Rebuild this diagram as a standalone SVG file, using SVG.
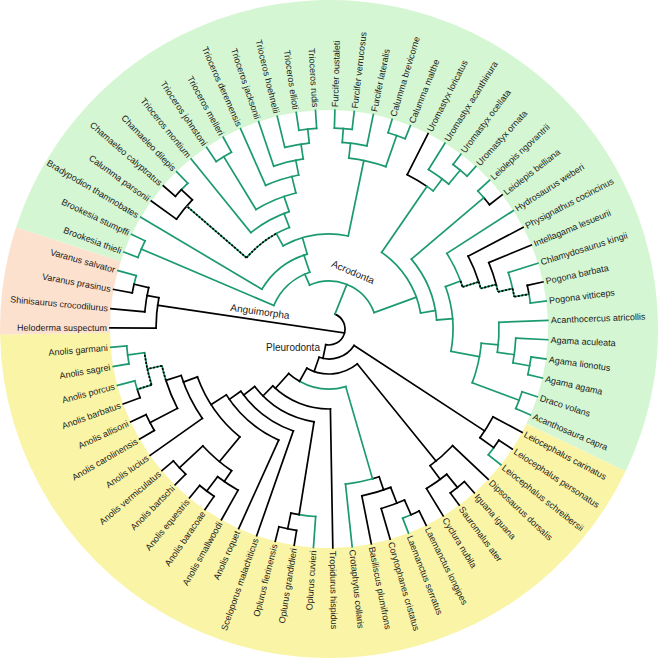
<svg xmlns="http://www.w3.org/2000/svg" width="658" height="658" viewBox="0 0 658 658">
<style>
.g{stroke:#1b9a71;fill:none;stroke-width:1.7;stroke-linecap:square}
.k{stroke:#000;fill:none;stroke-width:1.7;stroke-linecap:square}
.dg{stroke:#1b9a71;fill:none;stroke-width:1.7}
.dk{stroke:#000;fill:none;stroke-width:1.7;stroke-dasharray:2 1.6}
.bg{fill:none;stroke-width:110}
text{font-family:"Liberation Sans",Arial,sans-serif;font-size:9px;fill:#1a1a1a}
.l{text-anchor:end}
.cl{font-size:10px;text-anchor:middle}
</style>
<rect width="658" height="658" fill="#fff"/>
<g transform="translate(329,329)">
<g id="background">
<circle class="bg" r="274" stroke="#fde1cf" pathLength="360" stroke-dasharray="19.01 400" transform="rotate(179)"/>
<circle class="bg" r="274" stroke="#d5f6d3" pathLength="360" stroke-dasharray="187.61 400" transform="rotate(198.01)"/>
<circle class="bg" r="274" stroke="#faf4a7" pathLength="360" stroke-dasharray="153.38 400" transform="rotate(25.62)"/>
</g>
<g id="connectors">
<!-- black arcs -->
<circle class="k" r="16" pathLength="360" stroke-dasharray="169.86 400" transform="rotate(291.82)"/>
<circle class="k" r="173" pathLength="360" stroke-dasharray="10.14 400" transform="rotate(180.27)"/>
<circle class="k" r="185" pathLength="360" stroke-dasharray="7.60 400" transform="rotate(185.34)"/>
<circle class="k" r="200" pathLength="360" stroke-dasharray="2.53 400" transform="rotate(190.41)"/>
<circle class="k" r="188" pathLength="360" stroke-dasharray="7.61 400" transform="rotate(215.76)"/>
<circle class="k" r="203" pathLength="360" stroke-dasharray="2.54 400" transform="rotate(220.83)"/>
<circle class="k" r="173" pathLength="360" stroke-dasharray="7.60 400" transform="rotate(296.89)"/>
<circle class="k" r="203" pathLength="360" stroke-dasharray="2.54 400" transform="rotate(319.70)"/>
<circle class="k" r="157" pathLength="360" stroke-dasharray="10.14 400" transform="rotate(332.38)"/>
<circle class="k" r="173" pathLength="360" stroke-dasharray="7.61 400" transform="rotate(337.45)"/>
<circle class="k" r="203" pathLength="360" stroke-dasharray="2.54 400" transform="rotate(347.59)"/>
<circle class="k" r="30" pathLength="360" stroke-dasharray="76.05 400" transform="rotate(33.23)"/>
<circle class="k" r="186" pathLength="360" stroke-dasharray="7.60 400" transform="rotate(28.16)"/>
<circle class="k" r="203" pathLength="360" stroke-dasharray="2.53 400" transform="rotate(33.23)"/>
<circle class="k" r="45" pathLength="360" stroke-dasharray="68.45 400" transform="rotate(50.97)"/>
<circle class="k" r="170" pathLength="360" stroke-dasharray="10.14 400" transform="rotate(43.37)"/>
<circle class="k" r="187" pathLength="360" stroke-dasharray="7.61 400" transform="rotate(50.97)"/>
<circle class="k" r="204" pathLength="360" stroke-dasharray="5.07 400" transform="rotate(48.44)"/>
<circle class="k" r="60" pathLength="360" stroke-dasharray="12.68 400" transform="rotate(119.42)"/>
<circle class="k" r="156" pathLength="360" stroke-dasharray="2.54 400" transform="rotate(71.25)"/>
<circle class="k" r="170" pathLength="360" stroke-dasharray="10.14 400" transform="rotate(68.72)"/>
<circle class="k" r="187" pathLength="360" stroke-dasharray="7.61 400" transform="rotate(66.18)"/>
<circle class="k" r="203" pathLength="360" stroke-dasharray="2.53 400" transform="rotate(63.65)"/>
<circle class="k" r="80" pathLength="360" stroke-dasharray="45.63 400" transform="rotate(89)"/>
<circle class="k" r="94" pathLength="360" stroke-dasharray="43.10 400" transform="rotate(99.14)"/>
<circle class="k" r="188" pathLength="360" stroke-dasharray="2.54 400" transform="rotate(99.14)"/>
<circle class="k" r="204" pathLength="360" stroke-dasharray="5.07 400" transform="rotate(99.14)"/>
<circle class="k" r="108" pathLength="360" stroke-dasharray="35.49 400" transform="rotate(109.28)"/>
<circle class="k" r="122" pathLength="360" stroke-dasharray="32.96 400" transform="rotate(114.35)"/>
<circle class="k" r="140" pathLength="360" stroke-dasharray="30.43 400" transform="rotate(129.56)"/>
<circle class="k" r="172" pathLength="360" stroke-dasharray="12.68 400" transform="rotate(124.49)"/>
<circle class="k" r="185" pathLength="360" stroke-dasharray="7.61 400" transform="rotate(119.42)"/>
<circle class="k" r="203" pathLength="360" stroke-dasharray="5.07 400" transform="rotate(124.49)"/>
<circle class="k" r="204" pathLength="360" stroke-dasharray="5.07 400" transform="rotate(134.63)"/>
<circle class="k" r="155" pathLength="360" stroke-dasharray="17.75 400" transform="rotate(144.77)"/>
<circle class="k" r="171" pathLength="360" stroke-dasharray="10.14 400" transform="rotate(152.38)"/>
<circle class="k" r="202" pathLength="360" stroke-dasharray="5.07 400" transform="rotate(149.85)"/>
<circle class="k" r="201" pathLength="360" stroke-dasharray="2.53 400" transform="rotate(159.99)"/>
<!-- green arcs -->
<circle class="g" r="200" pathLength="360" stroke-dasharray="2.54 400" transform="rotate(192.94)"/>
<circle class="g" r="48" pathLength="360" stroke-dasharray="93.80 400" transform="rotate(246.18)"/>
<circle class="g" r="60" pathLength="360" stroke-dasharray="48.17 400" transform="rotate(203.08)"/>
<circle class="g" r="204" pathLength="360" stroke-dasharray="5.07 400" transform="rotate(200.55)"/>
<circle class="g" r="78" pathLength="360" stroke-dasharray="43.10 400" transform="rotate(210.69)"/>
<circle class="g" r="95" pathLength="360" stroke-dasharray="40.57 400" transform="rotate(241.11)"/>
<circle class="g" r="109" pathLength="360" stroke-dasharray="7.61 400" transform="rotate(241.11)"/>
<circle class="g" r="203" pathLength="360" stroke-dasharray="2.53 400" transform="rotate(223.37)"/>
<circle class="g" r="124" pathLength="360" stroke-dasharray="20.28 400" transform="rotate(230.97)"/>
<circle class="g" r="140" pathLength="360" stroke-dasharray="17.74 400" transform="rotate(238.58)"/>
<circle class="g" r="202" pathLength="360" stroke-dasharray="5.07 400" transform="rotate(236.04)"/>
<circle class="g" r="157" pathLength="360" stroke-dasharray="12.68 400" transform="rotate(246.18)"/>
<circle class="g" r="172" pathLength="360" stroke-dasharray="10.14 400" transform="rotate(251.25)"/>
<circle class="g" r="187" pathLength="360" stroke-dasharray="7.61 400" transform="rotate(256.32)"/>
<circle class="g" r="201" pathLength="360" stroke-dasharray="5.08 400" transform="rotate(261.39)"/>
<circle class="g" r="172" pathLength="360" stroke-dasharray="12.67 400" transform="rotate(276.61)"/>
<circle class="g" r="187" pathLength="360" stroke-dasharray="7.61 400" transform="rotate(274.07)"/>
<circle class="g" r="201" pathLength="360" stroke-dasharray="5.07 400" transform="rotate(271.54)"/>
<circle class="g" r="205" pathLength="360" stroke-dasharray="5.07 400" transform="rotate(286.75)"/>
<circle class="g" r="93" pathLength="360" stroke-dasharray="45.64 400" transform="rotate(304.49)"/>
<circle class="g" r="173" pathLength="360" stroke-dasharray="2.54 400" transform="rotate(304.49)"/>
<circle class="g" r="188" pathLength="360" stroke-dasharray="7.60 400" transform="rotate(301.96)"/>
<circle class="g" r="206" pathLength="360" stroke-dasharray="5.07 400" transform="rotate(307.03)"/>
<circle class="g" r="108" pathLength="360" stroke-dasharray="35.50 400" transform="rotate(319.70)"/>
<circle class="g" r="203" pathLength="360" stroke-dasharray="2.53 400" transform="rotate(317.17)"/>
<circle class="g" r="124" pathLength="360" stroke-dasharray="30.43 400" transform="rotate(339.98)"/>
<circle class="g" r="140" pathLength="360" stroke-dasharray="12.67 400" transform="rotate(327.31)"/>
<circle class="g" r="188" pathLength="360" stroke-dasharray="5.07 400" transform="rotate(342.52)"/>
<circle class="g" r="203" pathLength="360" stroke-dasharray="2.53 400" transform="rotate(350.13)"/>
<circle class="g" r="153" pathLength="360" stroke-dasharray="15.21 400" transform="rotate(5.34)"/>
<circle class="g" r="170" pathLength="360" stroke-dasharray="10.14 400" transform="rotate(357.73)"/>
<circle class="g" r="187" pathLength="360" stroke-dasharray="7.61 400" transform="rotate(2.80)"/>
<circle class="g" r="204" pathLength="360" stroke-dasharray="5.07 400" transform="rotate(7.87)"/>
<circle class="g" r="203" pathLength="360" stroke-dasharray="5.08 400" transform="rotate(18.01)"/>
<circle class="g" r="203" pathLength="360" stroke-dasharray="2.54 400" transform="rotate(35.76)"/>
<circle class="g" r="60" pathLength="360" stroke-dasharray="45.63 400" transform="rotate(73.79)"/>
<circle class="g" r="156" pathLength="360" stroke-dasharray="10.14 400" transform="rotate(73.79)"/>
<circle class="g" r="203" pathLength="360" stroke-dasharray="2.54 400" transform="rotate(66.18)"/>
<circle class="g" r="188" pathLength="360" stroke-dasharray="5.07 400" transform="rotate(94.07)"/>
<circle class="g" r="201" pathLength="360" stroke-dasharray="2.54 400" transform="rotate(162.52)"/>
<circle class="g" r="203" pathLength="360" stroke-dasharray="5.07 400" transform="rotate(170.13)"/>
<!-- black radials -->
<line class="k" x1="15.52" y1="3.87" x2="-171.37" y2="-23.69"/>
<line class="k" x1="173" x2="219" transform="rotate(180.27)"/>
<line class="k" x1="173" x2="185" transform="rotate(190.41)"/>
<line class="k" x1="185" x2="219" transform="rotate(185.34)"/>
<line class="k" x1="185" x2="200" transform="rotate(192.94)"/>
<line class="k" x1="200" x2="219" transform="rotate(190.41)"/>
<line class="k" x1="188" x2="219" transform="rotate(215.76)"/>
<line class="k" x1="188" x2="203" transform="rotate(223.37)"/>
<line class="k" x1="203" x2="219" transform="rotate(220.83)"/>
<line class="k" x1="173" x2="219" transform="rotate(296.89)"/>
<line class="k" x1="203" x2="219" transform="rotate(322.24)"/>
<line class="k" x1="157" x2="219" transform="rotate(332.38)"/>
<line class="k" x1="173" x2="219" transform="rotate(337.45)"/>
<line class="k" x1="203" x2="219" transform="rotate(347.59)"/>
<line class="k" x1="16" x2="30" transform="rotate(101.68)"/>
<line class="k" x1="30" x2="186" transform="rotate(33.23)"/>
<line class="k" x1="186" x2="219" transform="rotate(28.16)"/>
<line class="k" x1="186" x2="203" transform="rotate(35.76)"/>
<line class="k" x1="203" x2="219" transform="rotate(33.23)"/>
<line class="k" x1="30" x2="45" transform="rotate(109.28)"/>
<line class="k" x1="45" x2="170" transform="rotate(50.97)"/>
<line class="k" x1="170" x2="219" transform="rotate(43.37)"/>
<line class="k" x1="170" x2="187" transform="rotate(53.51)"/>
<line class="k" x1="187" x2="219" transform="rotate(58.58)"/>
<line class="k" x1="187" x2="204" transform="rotate(50.97)"/>
<line class="k" x1="204" x2="219" transform="rotate(48.44)"/>
<line class="k" x1="204" x2="219" transform="rotate(53.51)"/>
<line class="k" x1="45" x2="60" transform="rotate(119.42)"/>
<line class="k" x1="156" x2="170" transform="rotate(71.25)"/>
<line class="k" x1="170" x2="219" transform="rotate(78.86)"/>
<line class="k" x1="170" x2="187" transform="rotate(68.72)"/>
<line class="k" x1="187" x2="219" transform="rotate(73.79)"/>
<line class="k" x1="187" x2="203" transform="rotate(66.18)"/>
<line class="k" x1="203" x2="219" transform="rotate(63.65)"/>
<line class="k" x1="60" x2="80" transform="rotate(132.10)"/>
<line class="k" x1="80" x2="219" transform="rotate(89)"/>
<line class="k" x1="80" x2="94" transform="rotate(134.63)"/>
<line class="k" x1="94" x2="188" transform="rotate(99.14)"/>
<line class="k" x1="188" x2="204" transform="rotate(101.68)"/>
<line class="k" x1="204" x2="219" transform="rotate(99.14)"/>
<line class="k" x1="204" x2="219" transform="rotate(104.21)"/>
<line class="k" x1="94" x2="108" transform="rotate(142.24)"/>
<line class="k" x1="108" x2="219" transform="rotate(109.28)"/>
<line class="k" x1="108" x2="122" transform="rotate(144.77)"/>
<line class="k" x1="122" x2="219" transform="rotate(114.35)"/>
<line class="k" x1="122" x2="140" transform="rotate(147.31)"/>
<line class="k" x1="140" x2="172" transform="rotate(129.56)"/>
<line class="k" x1="172" x2="185" transform="rotate(124.49)"/>
<line class="k" x1="185" x2="219" transform="rotate(119.42)"/>
<line class="k" x1="185" x2="203" transform="rotate(127.03)"/>
<line class="k" x1="203" x2="219" transform="rotate(124.49)"/>
<line class="k" x1="203" x2="219" transform="rotate(129.56)"/>
<line class="k" x1="172" x2="204" transform="rotate(137.17)"/>
<line class="k" x1="204" x2="219" transform="rotate(134.63)"/>
<line class="k" x1="204" x2="219" transform="rotate(139.70)"/>
<line class="k" x1="140" x2="155" transform="rotate(159.99)"/>
<line class="k" x1="155" x2="219" transform="rotate(144.77)"/>
<line class="k" x1="155" x2="171" transform="rotate(162.52)"/>
<line class="k" x1="171" x2="202" transform="rotate(152.38)"/>
<line class="k" x1="202" x2="219" transform="rotate(149.85)"/>
<line class="k" x1="202" x2="219" transform="rotate(154.92)"/>
<line class="k" x1="201" x2="219" transform="rotate(159.99)"/>
<!-- green radials -->
<line class="g" x1="200" x2="219" transform="rotate(195.48)"/>
<line class="g" x1="16" x2="48" transform="rotate(291.82)"/>
<line class="g" x1="48" x2="60" transform="rotate(246.18)"/>
<line class="g" x1="60" x2="204" transform="rotate(203.08)"/>
<line class="g" x1="204" x2="219" transform="rotate(200.55)"/>
<line class="g" x1="204" x2="219" transform="rotate(205.62)"/>
<line class="g" x1="60" x2="78" transform="rotate(251.25)"/>
<line class="g" x1="78" x2="219" transform="rotate(210.69)"/>
<line class="g" x1="78" x2="95" transform="rotate(253.79)"/>
<line class="g" x1="95" x2="109" transform="rotate(241.11)"/>
<line class="g" x1="203" x2="219" transform="rotate(225.90)"/>
<line class="g" x1="109" x2="124" transform="rotate(248.72)"/>
<line class="g" x1="124" x2="219" transform="rotate(230.97)"/>
<line class="g" x1="124" x2="140" transform="rotate(251.25)"/>
<line class="g" x1="140" x2="202" transform="rotate(238.58)"/>
<line class="g" x1="202" x2="219" transform="rotate(236.04)"/>
<line class="g" x1="202" x2="219" transform="rotate(241.11)"/>
<line class="g" x1="140" x2="157" transform="rotate(256.32)"/>
<line class="g" x1="157" x2="219" transform="rotate(246.18)"/>
<line class="g" x1="157" x2="172" transform="rotate(258.86)"/>
<line class="g" x1="172" x2="219" transform="rotate(251.25)"/>
<line class="g" x1="172" x2="187" transform="rotate(261.39)"/>
<line class="g" x1="187" x2="219" transform="rotate(256.32)"/>
<line class="g" x1="187" x2="201" transform="rotate(263.93)"/>
<line class="g" x1="201" x2="219" transform="rotate(261.39)"/>
<line class="g" x1="201" x2="219" transform="rotate(266.47)"/>
<line class="g" x1="95" x2="172" transform="rotate(281.68)"/>
<line class="g" x1="172" x2="187" transform="rotate(276.61)"/>
<line class="g" x1="187" x2="201" transform="rotate(274.07)"/>
<line class="g" x1="201" x2="219" transform="rotate(271.54)"/>
<line class="g" x1="201" x2="219" transform="rotate(276.61)"/>
<line class="g" x1="187" x2="219" transform="rotate(281.68)"/>
<line class="g" x1="172" x2="205" transform="rotate(289.28)"/>
<line class="g" x1="205" x2="219" transform="rotate(286.75)"/>
<line class="g" x1="205" x2="219" transform="rotate(291.82)"/>
<line class="g" x1="48" x2="93" transform="rotate(339.98)"/>
<line class="g" x1="93" x2="173" transform="rotate(304.49)"/>
<line class="g" x1="173" x2="188" transform="rotate(307.03)"/>
<line class="g" x1="188" x2="219" transform="rotate(301.96)"/>
<line class="g" x1="188" x2="206" transform="rotate(309.56)"/>
<line class="g" x1="206" x2="219" transform="rotate(307.03)"/>
<line class="g" x1="206" x2="219" transform="rotate(312.10)"/>
<line class="g" x1="93" x2="108" transform="rotate(350.13)"/>
<line class="g" x1="108" x2="203" transform="rotate(319.70)"/>
<line class="g" x1="203" x2="219" transform="rotate(317.17)"/>
<line class="g" x1="108" x2="124" transform="rotate(355.20)"/>
<line class="g" x1="124" x2="140" transform="rotate(339.98)"/>
<line class="g" x1="140" x2="219" transform="rotate(327.31)"/>
<line class="g" x1="188" x2="219" transform="rotate(342.52)"/>
<line class="g" x1="203" x2="219" transform="rotate(352.66)"/>
<line class="g" x1="124" x2="153" transform="rotate(10.41)"/>
<line class="g" x1="153" x2="170" transform="rotate(5.34)"/>
<line class="g" x1="170" x2="219" transform="rotate(357.73)"/>
<line class="g" x1="170" x2="187" transform="rotate(7.87)"/>
<line class="g" x1="187" x2="219" transform="rotate(2.80)"/>
<line class="g" x1="187" x2="204" transform="rotate(10.41)"/>
<line class="g" x1="204" x2="219" transform="rotate(7.87)"/>
<line class="g" x1="204" x2="219" transform="rotate(12.94)"/>
<line class="g" x1="153" x2="203" transform="rotate(20.55)"/>
<line class="g" x1="203" x2="219" transform="rotate(18.01)"/>
<line class="g" x1="203" x2="219" transform="rotate(23.09)"/>
<line class="g" x1="203" x2="219" transform="rotate(38.30)"/>
<line class="g" x1="60" x2="156" transform="rotate(73.79)"/>
<line class="g" x1="156" x2="219" transform="rotate(83.93)"/>
<line class="g" x1="203" x2="219" transform="rotate(68.72)"/>
<line class="g" x1="188" x2="219" transform="rotate(94.07)"/>
<line class="g" x1="201" x2="219" transform="rotate(165.06)"/>
<line class="g" x1="186" x2="203" transform="rotate(172.66)"/>
<line class="g" x1="203" x2="219" transform="rotate(170.13)"/>
<line class="g" x1="203" x2="219" transform="rotate(175.20)"/>
<!-- dotted edges: green base -->
<g class="dg">
<path d="M109 0A109 109 0 0 1 102.24 37.78" transform="rotate(220.83)"/>
<path d="M171 0A171 171 0 0 1 170.33 15.11" transform="rotate(162.52)"/>
<path d="M186 0A186 186 0 0 1 183.09 32.75" transform="rotate(162.52)"/>
<path d="M140 0A140 140 0 0 1 139.86 6.20" transform="rotate(339.98)"/>
<path d="M157 0A157 157 0 0 1 156.85 6.96" transform="rotate(342.52)"/>
<path d="M173 0A173 173 0 0 1 172.83 7.64" transform="rotate(345.06)"/>
<path d="M188 0A188 188 0 0 1 187.82 8.33" transform="rotate(347.59)"/>
<line x1="109" x2="188" transform="rotate(220.83)"/>
<line x1="171" x2="186" transform="rotate(167.59)"/>
<line x1="186" x2="201" transform="rotate(162.52)"/>
<line x1="140" x2="157" transform="rotate(342.52)"/>
<line x1="157" x2="173" transform="rotate(345.06)"/>
<line x1="173" x2="188" transform="rotate(347.59)"/>
<line x1="188" x2="203" transform="rotate(350.13)"/>
</g>
<g class="dk">
<path d="M109 0A109 109 0 0 1 102.24 37.78" transform="rotate(220.83)"/>
<path d="M171 0A171 171 0 0 1 170.33 15.11" transform="rotate(162.52)"/>
<path d="M186 0A186 186 0 0 1 183.09 32.75" transform="rotate(162.52)"/>
<path d="M140 0A140 140 0 0 1 139.86 6.20" transform="rotate(339.98)"/>
<path d="M157 0A157 157 0 0 1 156.85 6.96" transform="rotate(342.52)"/>
<path d="M173 0A173 173 0 0 1 172.83 7.64" transform="rotate(345.06)"/>
<path d="M188 0A188 188 0 0 1 187.82 8.33" transform="rotate(347.59)"/>
<line x1="109" x2="188" transform="rotate(220.83)"/>
<line x1="171" x2="186" transform="rotate(167.59)"/>
<line x1="186" x2="201" transform="rotate(162.52)"/>
<line x1="140" x2="157" transform="rotate(342.52)"/>
<line x1="157" x2="173" transform="rotate(345.06)"/>
<line x1="173" x2="188" transform="rotate(347.59)"/>
<line x1="188" x2="203" transform="rotate(350.13)"/>
</g>
</g>
<g id="clade-labels">
<g id="lbl-Acrodonta"><text class="cl" transform="translate(24,-57) rotate(23)" dy=".35em">Acrodonta</text></g>
<g id="lbl-Anguimorpha"><text class="cl" transform="translate(-69,-17.5) rotate(8)" dy=".35em">Anguimorpha</text></g>
<g id="lbl-Pleurodonta"><text class="cl" transform="translate(-36,18.5)" dy=".35em">Pleurodonta</text></g>
</g>
<g id="tips">
<g id="t-Tropidurus_hispidus"><text transform="rotate(89)" x="222" dy=".35em">Tropidurus hispidus</text></g>
<g id="t-Furcifer_oustaleti"><text transform="rotate(271.54)" x="222" dy=".35em">Furcifer oustaleti</text></g>
<g id="t-Furcifer_verrucosus"><text transform="rotate(276.61)" x="222" dy=".35em">Furcifer verrucosus</text></g>
<g id="t-Furcifer_lateralis"><text transform="rotate(281.68)" x="222" dy=".35em">Furcifer lateralis</text></g>
<g id="t-Calumma_brevicorne"><text transform="rotate(286.75)" x="222" dy=".35em">Calumma brevicorne</text></g>
<g id="t-Calumma_malthe"><text transform="rotate(291.82)" x="222" dy=".35em">Calumma malthe</text></g>
<g id="t-Uromastyx_loricatus"><text transform="rotate(296.89)" x="222" dy=".35em">Uromastyx loricatus</text></g>
<g id="t-Uromastyx_acanthinura"><text transform="rotate(301.96)" x="222" dy=".35em">Uromastyx acanthinura</text></g>
<g id="t-Uromastyx_ocellata"><text transform="rotate(307.03)" x="222" dy=".35em">Uromastyx ocellata</text></g>
<g id="t-Uromastyx_ornata"><text transform="rotate(312.10)" x="222" dy=".35em">Uromastyx ornata</text></g>
<g id="t-Leiolepis_ngovantrii"><text transform="rotate(317.17)" x="222" dy=".35em">Leiolepis ngovantrii</text></g>
<g id="t-Leiolepis_belliana"><text transform="rotate(322.24)" x="222" dy=".35em">Leiolepis belliana</text></g>
<g id="t-Hydrosaurus_weberi"><text transform="rotate(327.31)" x="222" dy=".35em">Hydrosaurus weberi</text></g>
<g id="t-Physignathus_cocincinus"><text transform="rotate(332.38)" x="222" dy=".35em">Physignathus cocincinus</text></g>
<g id="t-Intellagama_lesueurii"><text transform="rotate(337.45)" x="222" dy=".35em">Intellagama lesueurii</text></g>
<g id="t-Chlamydosaurus_kingii"><text transform="rotate(342.52)" x="222" dy=".35em">Chlamydosaurus kingii</text></g>
<g id="t-Pogona_barbata"><text transform="rotate(347.59)" x="222" dy=".35em">Pogona barbata</text></g>
<g id="t-Pogona_vitticeps"><text transform="rotate(352.66)" x="222" dy=".35em">Pogona vitticeps</text></g>
<g id="t-Acanthocercus_atricollis"><text transform="rotate(357.73)" x="222" dy=".35em">Acanthocercus atricollis</text></g>
<g id="t-Agama_aculeata"><text transform="rotate(2.80)" x="222" dy=".35em">Agama aculeata</text></g>
<g id="t-Agama_lionotus"><text transform="rotate(7.87)" x="222" dy=".35em">Agama lionotus</text></g>
<g id="t-Agama_agama"><text transform="rotate(12.94)" x="222" dy=".35em">Agama agama</text></g>
<g id="t-Draco_volans"><text transform="rotate(18.01)" x="222" dy=".35em">Draco volans</text></g>
<g id="t-Acanthosaura_capra"><text transform="rotate(23.09)" x="222" dy=".35em">Acanthosaura capra</text></g>
<g id="t-Leiocephalus_carinatus"><text transform="rotate(28.16)" x="222" dy=".35em">Leiocephalus carinatus</text></g>
<g id="t-Leiocephalus_personatus"><text transform="rotate(33.23)" x="222" dy=".35em">Leiocephalus personatus</text></g>
<g id="t-Leiocephalus_schreibersii"><text transform="rotate(38.30)" x="222" dy=".35em">Leiocephalus schreibersii</text></g>
<g id="t-Dipsosaurus_dorsalis"><text transform="rotate(43.37)" x="222" dy=".35em">Dipsosaurus dorsalis</text></g>
<g id="t-Iguana_iguana"><text transform="rotate(48.44)" x="222" dy=".35em">Iguana iguana</text></g>
<g id="t-Sauromalus_ater"><text transform="rotate(53.51)" x="222" dy=".35em">Sauromalus ater</text></g>
<g id="t-Cyclura_nubila"><text transform="rotate(58.58)" x="222" dy=".35em">Cyclura nubila</text></g>
<g id="t-Laemanctus_longipes"><text transform="rotate(63.65)" x="222" dy=".35em">Laemanctus longipes</text></g>
<g id="t-Laemanctus_serratus"><text transform="rotate(68.72)" x="222" dy=".35em">Laemanctus serratus</text></g>
<g id="t-Corytophanes_cristatus"><text transform="rotate(73.79)" x="222" dy=".35em">Corytophanes cristatus</text></g>
<g id="t-Basiliscus_plumifrons"><text transform="rotate(78.86)" x="222" dy=".35em">Basiliscus plumifrons</text></g>
<g id="t-Crotaphytus_collaris"><text transform="rotate(83.93)" x="222" dy=".35em">Crotaphytus collaris</text></g>
<g id="t-Oplurus_cuvieri"><text class="l" transform="rotate(-85.93)" x="-222" dy=".35em">Oplurus cuvieri</text></g>
<g id="t-Oplurus_grandidieri"><text class="l" transform="rotate(-80.86)" x="-222" dy=".35em">Oplurus grandidieri</text></g>
<g id="t-Oplurus_fierinensis"><text class="l" transform="rotate(-75.79)" x="-222" dy=".35em">Oplurus fierinensis</text></g>
<g id="t-Sceloporus_malachiticus"><text class="l" transform="rotate(-70.72)" x="-222" dy=".35em">Sceloporus malachiticus</text></g>
<g id="t-Anolis_roquet"><text class="l" transform="rotate(-65.65)" x="-222" dy=".35em">Anolis roquet</text></g>
<g id="t-Anolis_smallwoodi"><text class="l" transform="rotate(-60.58)" x="-222" dy=".35em">Anolis smallwoodi</text></g>
<g id="t-Anolis_baracoae"><text class="l" transform="rotate(-55.51)" x="-222" dy=".35em">Anolis baracoae</text></g>
<g id="t-Anolis_equestris"><text class="l" transform="rotate(-50.44)" x="-222" dy=".35em">Anolis equestris</text></g>
<g id="t-Anolis_bartschi"><text class="l" transform="rotate(-45.37)" x="-222" dy=".35em">Anolis bartschi</text></g>
<g id="t-Anolis_vermiculatus"><text class="l" transform="rotate(-40.30)" x="-222" dy=".35em">Anolis vermiculatus</text></g>
<g id="t-Anolis_lucius"><text class="l" transform="rotate(-35.23)" x="-222" dy=".35em">Anolis lucius</text></g>
<g id="t-Anolis_carolinensis"><text class="l" transform="rotate(-30.15)" x="-222" dy=".35em">Anolis carolinensis</text></g>
<g id="t-Anolis_allisoni"><text class="l" transform="rotate(-25.08)" x="-222" dy=".35em">Anolis allisoni</text></g>
<g id="t-Anolis_barbatus"><text class="l" transform="rotate(-20.01)" x="-222" dy=".35em">Anolis barbatus</text></g>
<g id="t-Anolis_porcus"><text class="l" transform="rotate(-14.94)" x="-222" dy=".35em">Anolis porcus</text></g>
<g id="t-Anolis_sagrei"><text class="l" transform="rotate(-9.87)" x="-222" dy=".35em">Anolis sagrei</text></g>
<g id="t-Anolis_garmani"><text class="l" transform="rotate(-4.80)" x="-222" dy=".35em">Anolis garmani</text></g>
<g id="t-Heloderma_suspectum"><text class="l" transform="rotate(0.27)" x="-222" dy=".35em">Heloderma suspectum</text></g>
<g id="t-Shinisaurus_crocodilurus"><text class="l" transform="rotate(5.34)" x="-222" dy=".35em">Shinisaurus crocodilurus</text></g>
<g id="t-Varanus_prasinus"><text class="l" transform="rotate(10.41)" x="-222" dy=".35em">Varanus prasinus</text></g>
<g id="t-Varanus_salvator"><text class="l" transform="rotate(15.48)" x="-222" dy=".35em">Varanus salvator</text></g>
<g id="t-Brookesia_thieli"><text class="l" transform="rotate(20.55)" x="-222" dy=".35em">Brookesia thieli</text></g>
<g id="t-Brookesia_stumpffi"><text class="l" transform="rotate(25.62)" x="-222" dy=".35em">Brookesia stumpffi</text></g>
<g id="t-Bradypodion_thamnobates"><text class="l" transform="rotate(30.69)" x="-222" dy=".35em">Bradypodion thamnobates</text></g>
<g id="t-Calumma_parsonii"><text class="l" transform="rotate(35.76)" x="-222" dy=".35em">Calumma parsonii</text></g>
<g id="t-Chamaeleo_calyptratus"><text class="l" transform="rotate(40.83)" x="-222" dy=".35em">Chamaeleo calyptratus</text></g>
<g id="t-Chamaeleo_dilepis"><text class="l" transform="rotate(45.90)" x="-222" dy=".35em">Chamaeleo dilepis</text></g>
<g id="t-Trioceros_montium"><text class="l" transform="rotate(50.97)" x="-222" dy=".35em">Trioceros montium</text></g>
<g id="t-Trioceros_johnstoni"><text class="l" transform="rotate(56.04)" x="-222" dy=".35em">Trioceros johnstoni</text></g>
<g id="t-Trioceros_melleri"><text class="l" transform="rotate(61.11)" x="-222" dy=".35em">Trioceros melleri</text></g>
<g id="t-Trioceros_deremensis"><text class="l" transform="rotate(66.18)" x="-222" dy=".35em">Trioceros deremensis</text></g>
<g id="t-Trioceros_jacksonii"><text class="l" transform="rotate(71.25)" x="-222" dy=".35em">Trioceros jacksonii</text></g>
<g id="t-Trioceros_hoehnelii"><text class="l" transform="rotate(76.32)" x="-222" dy=".35em">Trioceros hoehnelii</text></g>
<g id="t-Trioceros_ellioti"><text class="l" transform="rotate(81.39)" x="-222" dy=".35em">Trioceros ellioti</text></g>
<g id="t-Trioceros_rudis"><text class="l" transform="rotate(86.47)" x="-222" dy=".35em">Trioceros rudis</text></g>
</g>
</g>
</svg>
